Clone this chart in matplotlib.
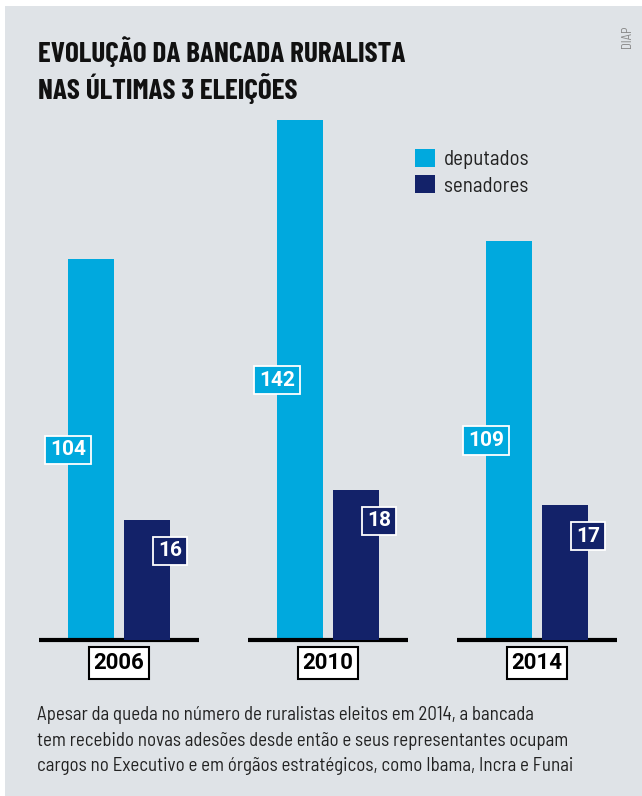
import matplotlib
matplotlib.use("Agg")
import matplotlib.pyplot as plt
from matplotlib.patches import Patch, Rectangle
import numpy as np

# dados
anos = ["2006", "2010", "2014"]
deputados = [104, 142, 109]
senadores = [16, 18, 17]

titulo = "EVOLUÇÃO DA BANCADA RURALISTA\nNAS ÚLTIMAS 3 ELEIÇÕES"
texto = ("Apesar da queda no número de ruralistas eleitos em 2014, a bancada\n"
         "tem recebido novas adesões desde então e seus representantes ocupam\n"
         "cargos no Executivo e em órgãos estratégicos, como Ibama, Incra e Funai")
fonte = "DIAP"

CIANO = "#00a9de"
AZUL = "#132269"
FUNDO = "#dfe3e7"

COND = ['Barlow Condensed', 'DejaVu Sans']
SEMI = ['Barlow Semi Condensed', 'DejaVu Sans']
NUM = ['Roboto', 'DejaVu Sans']
plt.rcParams['font.family'] = COND

W, H = 642, 796
fig = plt.figure(figsize=(W / 100, H / 100), dpi=100)
fig.patch.set_facecolor("white")
fig.patches.append(Rectangle((5 / W, 0), 1, 790 / H, transform=fig.transFigure,
                             facecolor=FUNDO, edgecolor="none", zorder=-10))

# eixos: centro do grupo 2006 em x=119px, 209px entre grupos
passo = 209.0
x = np.arange(len(anos))
larg = 46 / passo
desl = 28 / passo
base_px = 640
alt_px = 540
ax = fig.add_axes([0, (H - base_px) / H, 1, alt_px / H])
ax.set_xlim(-119 / passo, (W - 119) / passo)
ax.set_ylim(0, alt_px / 3.66)
ax2 = ax.twinx()
ax2.set_ylim(8, 8 + alt_px / 15.0)
for a in (ax, ax2):
    a.axis("off")
    a.patch.set_alpha(0)

ax.bar(x - desl, deputados, width=larg, color=CIANO, label="deputados")
ax2.bar(x + desl, senadores, width=larg, color=AZUL, label="senadores")

for i in range(len(anos)):
    ax.plot([x[i] - 0.383, x[i] + 0.383], [0, 0], color="black", lw=3,
            solid_capstyle="butt", clip_on=False, zorder=5)
    ax.annotate(anos[i], xy=(x[i], 0), xytext=(0, -23), textcoords="offset pixels",
                ha="center", va="center", fontsize=16, fontweight="bold", family=NUM,
                color="black", annotation_clip=False,
                bbox=dict(boxstyle="square,pad=0.22", fc="white", ec="black", lw=1.5))
    ax.text(x[i] - desl - larg / 2, deputados[i] / 2, str(deputados[i]),
            ha="center", va="center", fontsize=15, fontweight="bold", family=NUM,
            color="white", zorder=6,
            bbox=dict(boxstyle="square,pad=0.22", fc=CIANO, ec="white", lw=1.3))
    ax2.annotate(str(senadores[i]), xy=(x[i] + desl + larg / 2, senadores[i]),
                 xytext=(0, -31), textcoords="offset pixels",
                 ha="center", va="center", fontsize=15, fontweight="bold", family=NUM,
                 color="white", zorder=6,
                 bbox=dict(boxstyle="square,pad=0.22", fc=AZUL, ec="white", lw=1.3))

handles = [Patch(facecolor=CIANO, label="deputados"), Patch(facecolor=AZUL, label="senadores")]
fig.legend(handles=handles, loc="upper left", bbox_to_anchor=(415 / W, (H - 149) / H),
           frameon=False, prop=dict(family=SEMI, size=15), handlelength=0.95, handleheight=0.95,
           handletextpad=0.45, labelspacing=0.3, borderpad=0, borderaxespad=0,
           labelcolor="#222222")

fig.text(38 / W, 1 - 36 / H, titulo, ha="left", va="top", fontsize=21,
         fontweight="bold", color="#111111", linespacing=1.25)
fig.text(37 / W, 1 - 706 / H, texto, ha="left", va="top", fontsize=13.6, family=SEMI,
         color="#222222", linespacing=1.55)
fig.text(628 / W, 1 - 37 / H, fonte, ha="center", va="center", rotation=90,
         fontsize=9, family=SEMI, color="#888888")

fig.savefig("out.png", dpi=100)
